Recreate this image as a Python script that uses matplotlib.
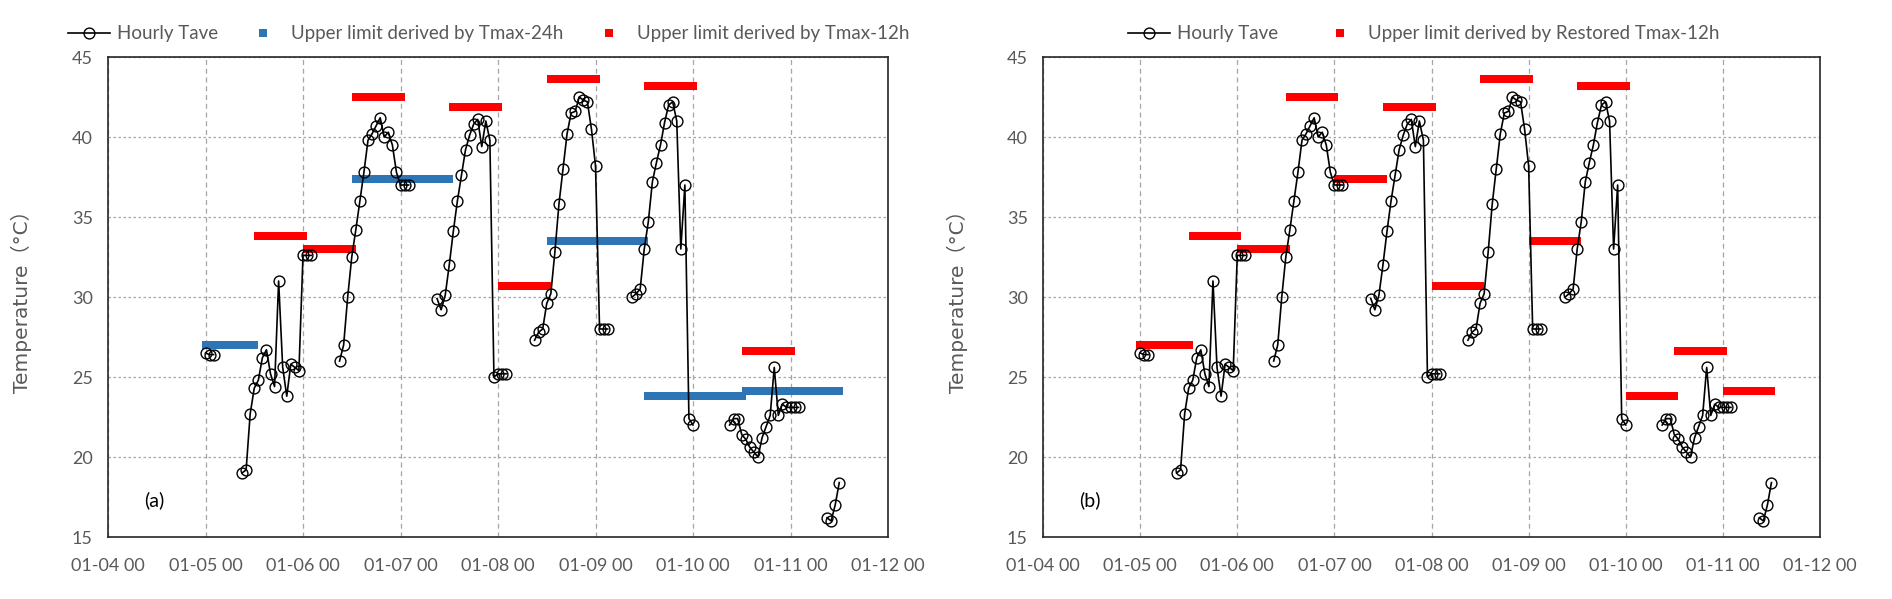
import numpy as np
import pandas as pd
import matplotlib
matplotlib.use("Agg")
import matplotlib.pyplot as plt
import matplotlib.dates as mdates
from matplotlib.lines import Line2D

t0 = pd.Timestamp("2021-01-04 00:00")

# hourly Tave, stored as runs: first hour (counted from 01-04 00) + values
tave_start = [24, 33, 57, 81, 105, 129, 153, 177]
tave_runs = [
    [26.5, 26.4, 26.4],
    [19.0, 19.2, 22.7, 24.3, 24.8, 26.2, 26.7, 25.2, 24.4, 31.0, 25.6, 23.8,
     25.8, 25.6, 25.4, 32.6, 32.6, 32.6],
    [26.0, 27.0, 30.0, 32.5, 34.2, 36.0, 37.8, 39.8, 40.2, 40.7, 41.2, 40.0,
     40.3, 39.5, 37.8, 37.0, 37.0, 37.0],
    [29.9, 29.2, 30.1, 32.0, 34.1, 36.0, 37.6, 39.2, 40.1, 40.8, 41.1, 39.4,
     41.0, 39.8, 25.0, 25.2, 25.2, 25.2],
    [27.3, 27.8, 28.0, 29.6, 30.2, 32.8, 35.8, 38.0, 40.2, 41.5, 41.6, 42.5,
     42.3, 42.2, 40.5, 38.2, 28.0, 28.0, 28.0],
    [30.0, 30.2, 30.5, 33.0, 34.7, 37.2, 38.4, 39.5, 40.9, 42.0, 42.2, 41.0,
     33.0, 37.0, 22.4, 22.0],
    [22.0, 22.4, 22.4, 21.4, 21.1, 20.6, 20.3, 20.0, 21.2, 21.9, 22.6, 25.6,
     22.6, 23.3, 23.1, 23.1, 23.1, 23.1],
    [16.2, 16.0, 17.0, 18.4],
]

# upper limits: first hour, last hour, value
lim24_first = [24, 61, 109, 133, 157]
lim24_last = [36, 84, 132, 156, 180]
lim24_val = [27.0, 37.4, 33.5, 23.8, 24.1]

lim12_first = [37, 49, 61, 85, 97, 109, 133, 157]
lim12_last = [48, 60, 72, 96, 108, 120, 144, 168]
lim12_val = [33.8, 33.0, 42.5, 41.9, 30.7, 43.6, 43.2, 26.6]

rlim12_first = [24, 37, 49, 61, 73, 85, 97, 109, 121, 133, 145, 157, 169]
rlim12_last = [36, 48, 60, 72, 84, 96, 108, 120, 132, 144, 156, 168, 180]
rlim12_val = [27.0, 33.8, 33.0, 42.5, 37.4, 41.9, 30.7, 43.6, 33.5, 43.2,
              23.8, 26.6, 24.1]

BLUE = "#2E75B6"
RED = "#FF0000"
GREY = "#595959"
FONT = ["Lato", "DejaVu Sans"]
YLAB_FONT = ["DejaVu Sans", "Noto Sans CJK SC"]

# full hourly series with gaps
hours = np.arange(24, 181)
tave = np.full(len(hours), np.nan)
for s, run in zip(tave_start, tave_runs):
    tave[s - 24:s - 24 + len(run)] = run
times = t0 + pd.to_timedelta(hours, unit="h")

leg_names = {
    "(a)": ["Upper limit derived by Tmax-24h", "Upper limit derived by Tmax-12h"],
    "(b)": ["Upper limit derived by Restored Tmax-12h"],
}


def expand(first, last, vals):
    hh, yy = [], []
    for a, b, v in zip(first, last, vals):
        for h in range(a, b + 1):
            hh.append(h)
            yy.append(v)
    return t0 + pd.to_timedelta(hh, unit="h"), np.array(yy)


def panel(ax, limits, tag, leg_x, leg_spacing):
    for (first, last, vals, col) in limits:
        x, y = expand(first, last, vals)
        ax.plot(x, y, ls="none", marker="s", ms=5.8, mfc=col, mec=col, mew=0,
                zorder=2)
    ax.plot(times, tave, color="black", lw=1.2, marker="o", ms=7.8,
            mfc="none", mec="black", mew=1.0, zorder=3)

    ax.set_xlim(t0, t0 + pd.Timedelta(days=8))
    ax.set_ylim(15, 45)
    ax.set_yticks(np.arange(15, 46, 5))
    ax.xaxis.set_major_locator(mdates.DayLocator())
    ax.xaxis.set_major_formatter(mdates.DateFormatter("%m-%d %H"))
    ax.tick_params(length=0, labelsize=13, labelcolor=GREY)
    ax.tick_params(axis="x", pad=15)
    ax.tick_params(axis="y", pad=11)
    for lab in ax.get_xticklabels() + ax.get_yticklabels():
        lab.set_family(FONT)
    ax.grid(axis="x", color="#a6a6a6", lw=0.9, ls=(0, (4, 3)))
    ax.grid(axis="y", color="#a6a6a6", lw=0.9, ls=(0, (2, 2)))
    for sp in ax.spines.values():
        sp.set_linewidth(1.2)
        sp.set_color("#262626")
    ax.set_ylabel("Temperature（°C）", family=YLAB_FONT, fontsize=14.5,
                  color=GREY)
    ax.yaxis.set_label_coords(-0.097, 0.5)
    ax.text(t0 + pd.Timedelta(hours=9), 17.3, tag, family=FONT, fontsize=14,
            color="black", va="center")

    handles = [Line2D([], [], color="black", lw=1.2, marker="o", ms=7.8,
                      mfc="none", mec="black", mew=1.0)]
    names = ["Hourly Tave"]
    for (first, last, vals, col), name in zip(limits, leg_names[tag]):
        handles.append(Line2D([], [], ls="none", marker="s", ms=5.8,
                              mfc=col, mec=col, mew=0))
        names.append(name)
    ax.legend(handles, names, loc="center", bbox_to_anchor=(leg_x, 1.048),
              ncol=len(names), frameon=False, handlelength=2.25,
              handletextpad=0.37, columnspacing=leg_spacing,
              prop={"family": FONT, "size": 13.5}, labelcolor=GREY,
              borderaxespad=0, borderpad=0)


fig = plt.figure(figsize=(18.92, 5.99), dpi=100)
ax1 = fig.add_axes([108 / 1892, 1 - 537 / 599, 780 / 1892, 480 / 599])
ax2 = fig.add_axes([1043 / 1892, 1 - 537 / 599, 777 / 1892, 480 / 599])

panel(ax1, [(lim24_first, lim24_last, lim24_val, BLUE),
            (lim12_first, lim12_last, lim12_val, RED)], "(a)", 0.488, 1.28)
panel(ax2, [(rlim12_first, rlim12_last, rlim12_val, RED)], "(b)", 0.49, 2.2)

fig.savefig("out.png", dpi=100)
